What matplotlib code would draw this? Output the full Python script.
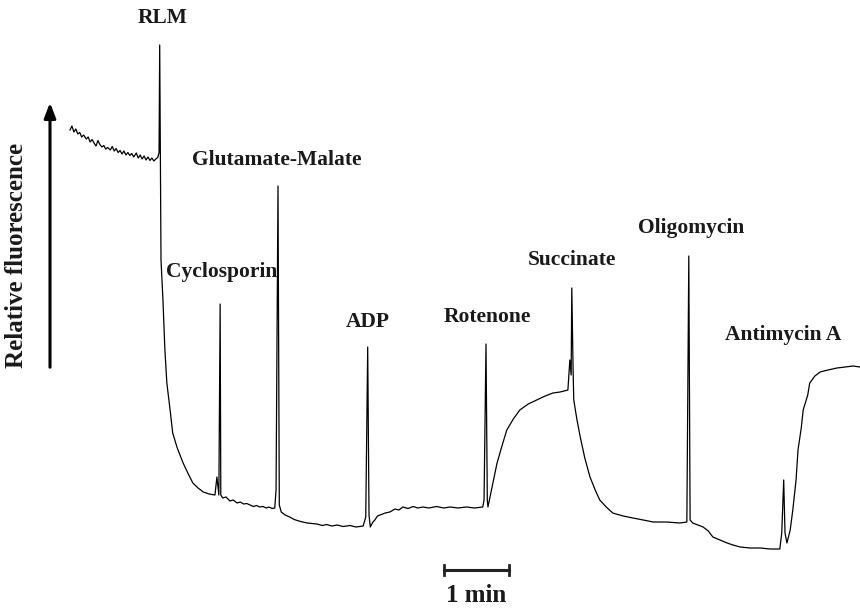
import matplotlib.pyplot as plt

# fluorescence trace: time (min) and relative fluorescence (a.u.)
time_min = [
    0.00, 0.03, 0.06, 0.09, 0.12, 0.15, 0.18, 0.21, 0.25, 0.28, 0.31, 0.34,
    0.37, 0.40, 0.43, 0.46, 0.49, 0.52, 0.55, 0.58, 0.62, 0.65, 0.68, 0.71,
    0.74, 0.77, 0.80, 0.83, 0.86, 0.89, 0.92, 0.95, 0.98, 1.02, 1.05, 1.08,
    1.11, 1.14, 1.17, 1.20, 1.23, 1.26, 1.29, 1.32, 1.35, 1.37, 1.38, 1.40,
    1.43, 1.46, 1.49, 1.54, 1.58, 1.65, 1.74, 1.82, 1.89, 1.97, 2.05, 2.14,
    2.23, 2.26, 2.29, 2.31, 2.32, 2.35, 2.40, 2.46, 2.51, 2.57, 2.62, 2.67,
    2.72, 2.77, 2.82, 2.87, 2.92, 2.97, 3.02, 3.06, 3.11, 3.15, 3.17, 3.20,
    3.22, 3.25, 3.31, 3.38, 3.45, 3.52, 3.58, 3.65, 3.72, 3.80, 3.88, 3.95,
    4.03, 4.11, 4.20, 4.31, 4.40, 4.51, 4.55, 4.58, 4.60, 4.62, 4.66, 4.69,
    4.73, 4.77, 4.85, 4.92, 5.00, 5.06, 5.12, 5.20, 5.28, 5.35, 5.43, 5.52,
    5.64, 5.75, 5.85, 5.97, 6.10, 6.22, 6.35, 6.37, 6.40, 6.42, 6.43, 6.49,
    6.57, 6.65, 6.72, 6.82, 6.92, 7.05, 7.18, 7.31, 7.43, 7.54, 7.66, 7.69,
    7.71, 7.72, 7.74, 7.75, 7.80, 7.85, 7.92, 8.00, 8.08, 8.15, 8.25, 8.35,
    8.51, 8.66, 8.82, 8.97, 9.18, 9.38, 9.49, 9.52, 9.54, 9.58, 9.66, 9.74,
    9.82, 9.89, 10.00, 10.11, 10.20, 10.31, 10.46, 10.62, 10.77, 10.92, 10.95,
    10.98, 11.00, 11.03, 11.08, 11.12, 11.17, 11.20, 11.25, 11.28, 11.35,
    11.38, 11.46, 11.54, 11.66, 11.80, 11.92, 12.05, 12.15,
]
fluorescence = [
    86.0, 86.8, 85.6, 86.2, 85.2, 85.5, 84.6, 85.0, 84.2, 84.6, 83.6, 84.1,
    83.4, 82.8, 83.9, 83.1, 82.6, 82.9, 82.2, 82.5, 82.0, 82.7, 81.8, 82.3,
    81.5, 81.9, 81.2, 81.8, 81.0, 81.5, 80.9, 81.3, 80.6, 81.4, 80.4, 81.0,
    80.2, 80.8, 80.0, 80.6, 79.9, 80.4, 79.8, 80.2, 80.5, 81.5, 103.0, 60.0,
    52.0, 42.0, 35.4, 30.0, 25.4, 22.4, 19.4, 17.2, 15.4, 14.4, 13.6, 13.2,
    13.0, 16.6, 13.0, 51.2, 13.0, 12.4, 12.6, 11.8, 12.0, 11.4, 11.6, 11.2,
    11.3, 11.0, 10.7, 10.9, 10.6, 10.7, 10.4, 10.6, 10.3, 10.4, 14.0, 74.8,
    11.0, 9.6, 9.0, 8.6, 8.1, 7.8, 7.6, 7.4, 7.3, 7.2, 6.9, 7.1,
    6.8, 7.0, 6.7, 6.9, 6.6, 6.8, 8.6, 42.6, 9.0, 6.6, 7.6, 8.0,
    8.8, 9.0, 9.4, 9.6, 10.2, 10.0, 10.6, 10.3, 10.7, 10.4, 10.6, 10.4,
    10.7, 10.4, 10.6, 10.4, 10.6, 10.4, 10.6, 12.0, 43.2, 12.0, 10.6, 14.4,
    19.4, 23.0, 26.0, 28.2, 30.0, 31.2, 32.0, 32.8, 33.4, 33.6, 34.0, 40.0,
    37.0, 54.4, 38.0, 32.0, 28.0, 24.6, 20.4, 16.6, 14.0, 12.0, 10.6, 9.4,
    8.8, 8.4, 8.0, 7.6, 7.6, 7.4, 7.6, 60.8, 8.0, 7.4, 7.0, 6.6,
    5.8, 4.6, 4.0, 3.4, 3.0, 2.6, 2.4, 2.4, 2.2, 2.2, 5.4,
    16.0, 5.4, 3.4, 6.0, 10.0, 16.0, 22.0, 26.4, 30.0, 33.0,
    35.4, 36.8, 37.6, 38.0, 38.4, 38.6, 38.8, 38.6,
]

# additions: label, time (min) and height (a.u.) of the label centre
labels = ["RLM", "Cyclosporin", "Glutamate-Malate", "ADP", "Rotenone",
          "Succinate", "Oligomycin", "Antimycin A"]
label_t = [1.43, 2.34, 3.18, 4.58, 6.42, 7.72, 9.55, 10.97]
label_y = [108.4, 57.6, 80.0, 47.6, 48.6, 60.0, 66.4, 45.0]

scale_bar_min = 1.0

fig = plt.figure(figsize=(8.6, 6.09), dpi=100)
ax = fig.add_axes([0, 0, 1, 1])
ax.set_xlim(-70 / 65, 790 / 65)
ax.set_ylim(-9.8, 112.0)
ax.axis("off")

ax.plot(time_min, fluorescence, color="black", lw=0.9)

font = dict(family="Liberation Serif", weight="bold", color="#1a1a1a")
for name, t, y in zip(labels, label_t, label_y):
    ax.text(t, y, name, ha="center", va="center", fontsize=15.5, **font)

# y axis arrow and label
ax.annotate("", xy=(-20 / 65, 92.0), xytext=(-20 / 65, 38.0),
            arrowprops=dict(arrowstyle="-|>,head_width=0.35,head_length=0.9",
                            color="black", lw=2.2))
ax.text(-53 / 65, 61.0, "Relative fluorescence", rotation=90, ha="center",
        va="center", fontsize=18, **font)

# 1 min scale bar
bar_t0 = 374 / 65
ax.plot([bar_t0, bar_t0 + scale_bar_min], [-2.0, -2.0], color="#222222", lw=2.2)
for tt in (bar_t0, bar_t0 + scale_bar_min):
    ax.plot([tt, tt], [-3.0, -1.0], color="#222222", lw=2.0)
ax.text(bar_t0 + scale_bar_min / 2, -7.0, "1 min", ha="center", va="center",
        fontsize=18, **font)

fig.savefig("out.png", dpi=100)
